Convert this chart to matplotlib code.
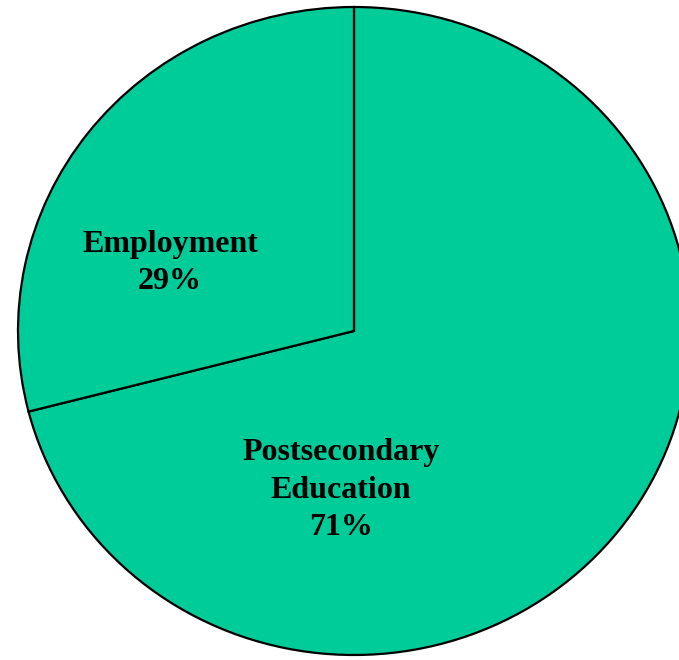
import matplotlib.pyplot as plt

labels = ["Postsecondary\nEducation\n71%", "Employment\n29%"]
values = [71, 29]
colors = ["#00CC99", "#00CC99"]

fig = plt.figure(figsize=(6.79, 6.60), dpi=100)
ax = fig.add_axes([0, 0, 1, 1])

ax.pie(values, startangle=90, counterclock=False, colors=colors,
       wedgeprops=dict(edgecolor="black", linewidth=1.6))
ax.set_aspect("auto")
ax.set_xlim(-354 / 336, 325 / 336)
ax.set_ylim(-329 / 324, 331 / 324)
ax.axis("off")

font = dict(family="Liberation Serif", fontweight="bold", fontsize=23,
            ha="center", va="center", linespacing=1.4)
ax.text(170 / 679, 1 - 263 / 660, labels[1], transform=ax.transAxes, **font)
ax.text(341 / 679, 1 - 490 / 660, labels[0], transform=ax.transAxes, **font)

fig.savefig("out.png", dpi=100)
